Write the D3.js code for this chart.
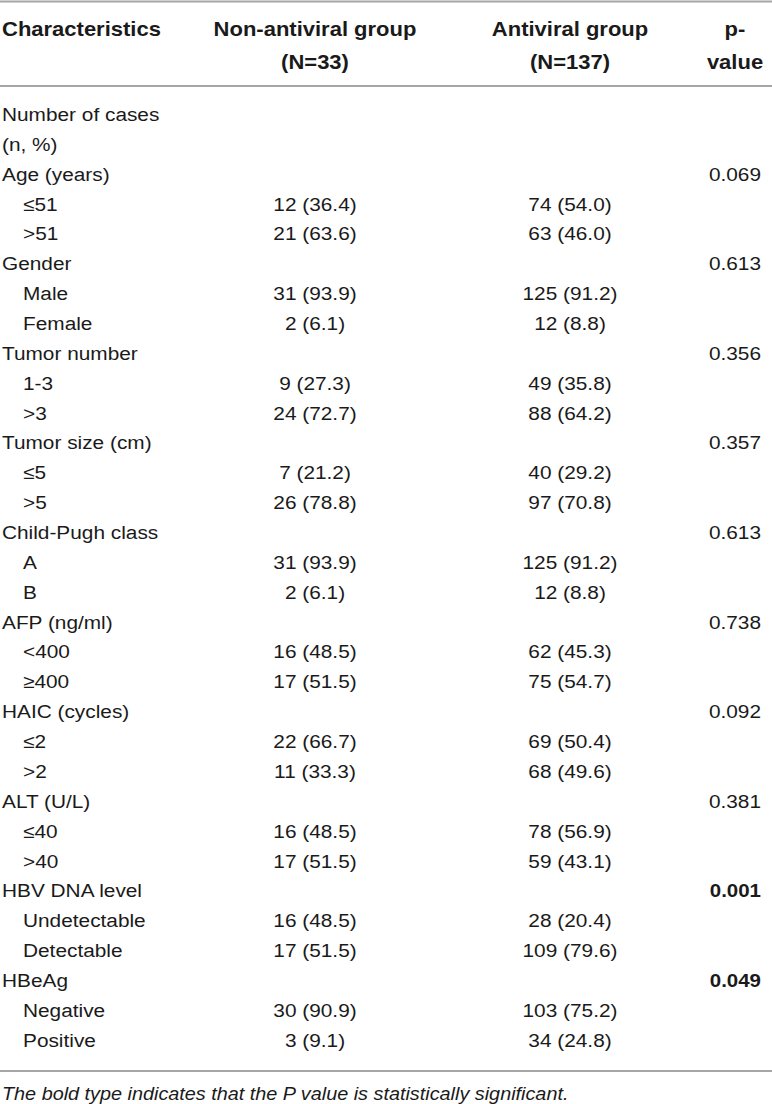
<!DOCTYPE html>
<html>
<head>
<meta charset="utf-8">
<script src="https://cdn.jsdelivr.net/npm/d3@7"></script>
<style>
  html, body { margin: 0; padding: 0; background: #fff; }
  svg text { font-family: "Liberation Sans", Arial, sans-serif; fill: #1a1a1a; }
  .head { font-weight: bold; }
  .note { font-style: italic; }
</style>
</head>
<body>
<div id="table"></div>
<script>
// table content
const headers = [
  ["Characteristics"],
  ["Non-antiviral group", "(N=33)"],
  ["Antiviral group", "(N=137)"],
  ["p-", "value"]
];
const variables = ["Age (years)", "Gender", "Tumor number", "Tumor size (cm)", "Child-Pugh class",
  "AFP (ng/ml)", "HAIC (cycles)", "ALT (U/L)", "HBV DNA level", "HBeAg"];
const levels = [["≤51", ">51"], ["Male", "Female"], ["1-3", ">3"], ["≤5", ">5"], ["A", "B"],
  ["<400", "≥400"], ["≤2", ">2"], ["≤40", ">40"], ["Undetectable", "Detectable"], ["Negative", "Positive"]];
const nonCounts = [[12, 21], [31, 2], [9, 24], [7, 26], [31, 2], [16, 17], [22, 11], [16, 17], [16, 17], [30, 3]];
const nonPct = [[36.4, 63.6], [93.9, 6.1], [27.3, 72.7], [21.2, 78.8], [93.9, 6.1], [48.5, 51.5], [66.7, 33.3], [48.5, 51.5], [48.5, 51.5], [90.9, 9.1]];
const antiCounts = [[74, 63], [125, 12], [49, 88], [40, 97], [125, 12], [62, 75], [69, 68], [78, 59], [28, 109], [103, 34]];
const antiPct = [[54.0, 46.0], [91.2, 8.8], [35.8, 64.2], [29.2, 70.8], [91.2, 8.8], [45.3, 54.7], [50.4, 49.6], [56.9, 43.1], [20.4, 79.6], [75.2, 24.8]];
const pValues = ["0.069", "0.613", "0.356", "0.357", "0.613", "0.738", "0.092", "0.381", "0.001", "0.049"];
const significant = [false, false, false, false, false, false, false, false, true, true];
const introLines = ["Number of cases", "(n, %)"];
const footnote = "The bold type indicates that the P value is statistically significant.";

const width = 772, height = 1104;
const fontSize = 18.6, headSize = 20, noteSize = 17.7, stretch = 1.12;
const fmt = d3.format(".1f");

// flatten into rows
const rows = [];
introLines.forEach(t => rows.push({ label: t, indent: false }));
variables.forEach((v, i) => {
  rows.push({ label: v, indent: false, p: pValues[i], bold: significant[i] });
  levels[i].forEach((lv, j) => rows.push({
    label: lv, indent: true,
    non: `${nonCounts[i][j]} (${fmt(nonPct[i][j])})`,
    anti: `${antiCounts[i][j]} (${fmt(antiPct[i][j])})`
  }));
});

const y = d3.scaleLinear().domain([0, rows.length - 1]).range([121, 121 + (rows.length - 1) * 29.86]);
const colX = d3.scaleOrdinal().domain(["label", "indent", "non", "anti", "pHead", "p"])
  .range([2, 23, 315, 570, 735, 761]);

const svg = d3.select("#table").append("svg")
  .attr("width", width).attr("height", height)
  .attr("viewBox", `0 0 ${width} ${height}`);

function put(g, text, x, yy, anchor, cls, size, sx) {
  return g.append("text")
    .attr("class", cls || null)
    .attr("transform", `translate(${x},${yy}) scale(${sx || stretch},1)`)
    .attr("text-anchor", anchor)
    .style("font-size", (size || fontSize) + "px")
    .text(text);
}

// rules
[1.5, 86, 1071].forEach(ly => {
  svg.append("line").attr("x1", 0).attr("x2", width).attr("y1", ly).attr("y2", ly)
    .attr("stroke", "#a6a6a6").attr("stroke-width", 2);
});

// header
const head = svg.append("g");
const headY = [36, 69];
const headCols = [["label", "start"], ["non", "middle"], ["anti", "middle"], ["pHead", "middle"]];
headers.forEach((lines, c) => {
  lines.forEach((t, k) => put(head, t, colX(headCols[c][0]), headY[k], headCols[c][1], "head", headSize, 1.1));
});

// body
const body = svg.append("g");
rows.forEach((r, i) => {
  put(body, r.label, colX(r.indent ? "indent" : "label"), y(i), "start");
  if (r.non) put(body, r.non, colX("non"), y(i), "middle");
  if (r.anti) put(body, r.anti, colX("anti"), y(i), "middle");
  if (r.p) put(body, r.p, colX("p"), y(i), "end", r.bold ? "head" : null, fontSize, r.bold ? 1.1 : stretch);
});

put(svg, footnote, 2, 1100, "start", "note", noteSize);
</script>
</body>
</html>
